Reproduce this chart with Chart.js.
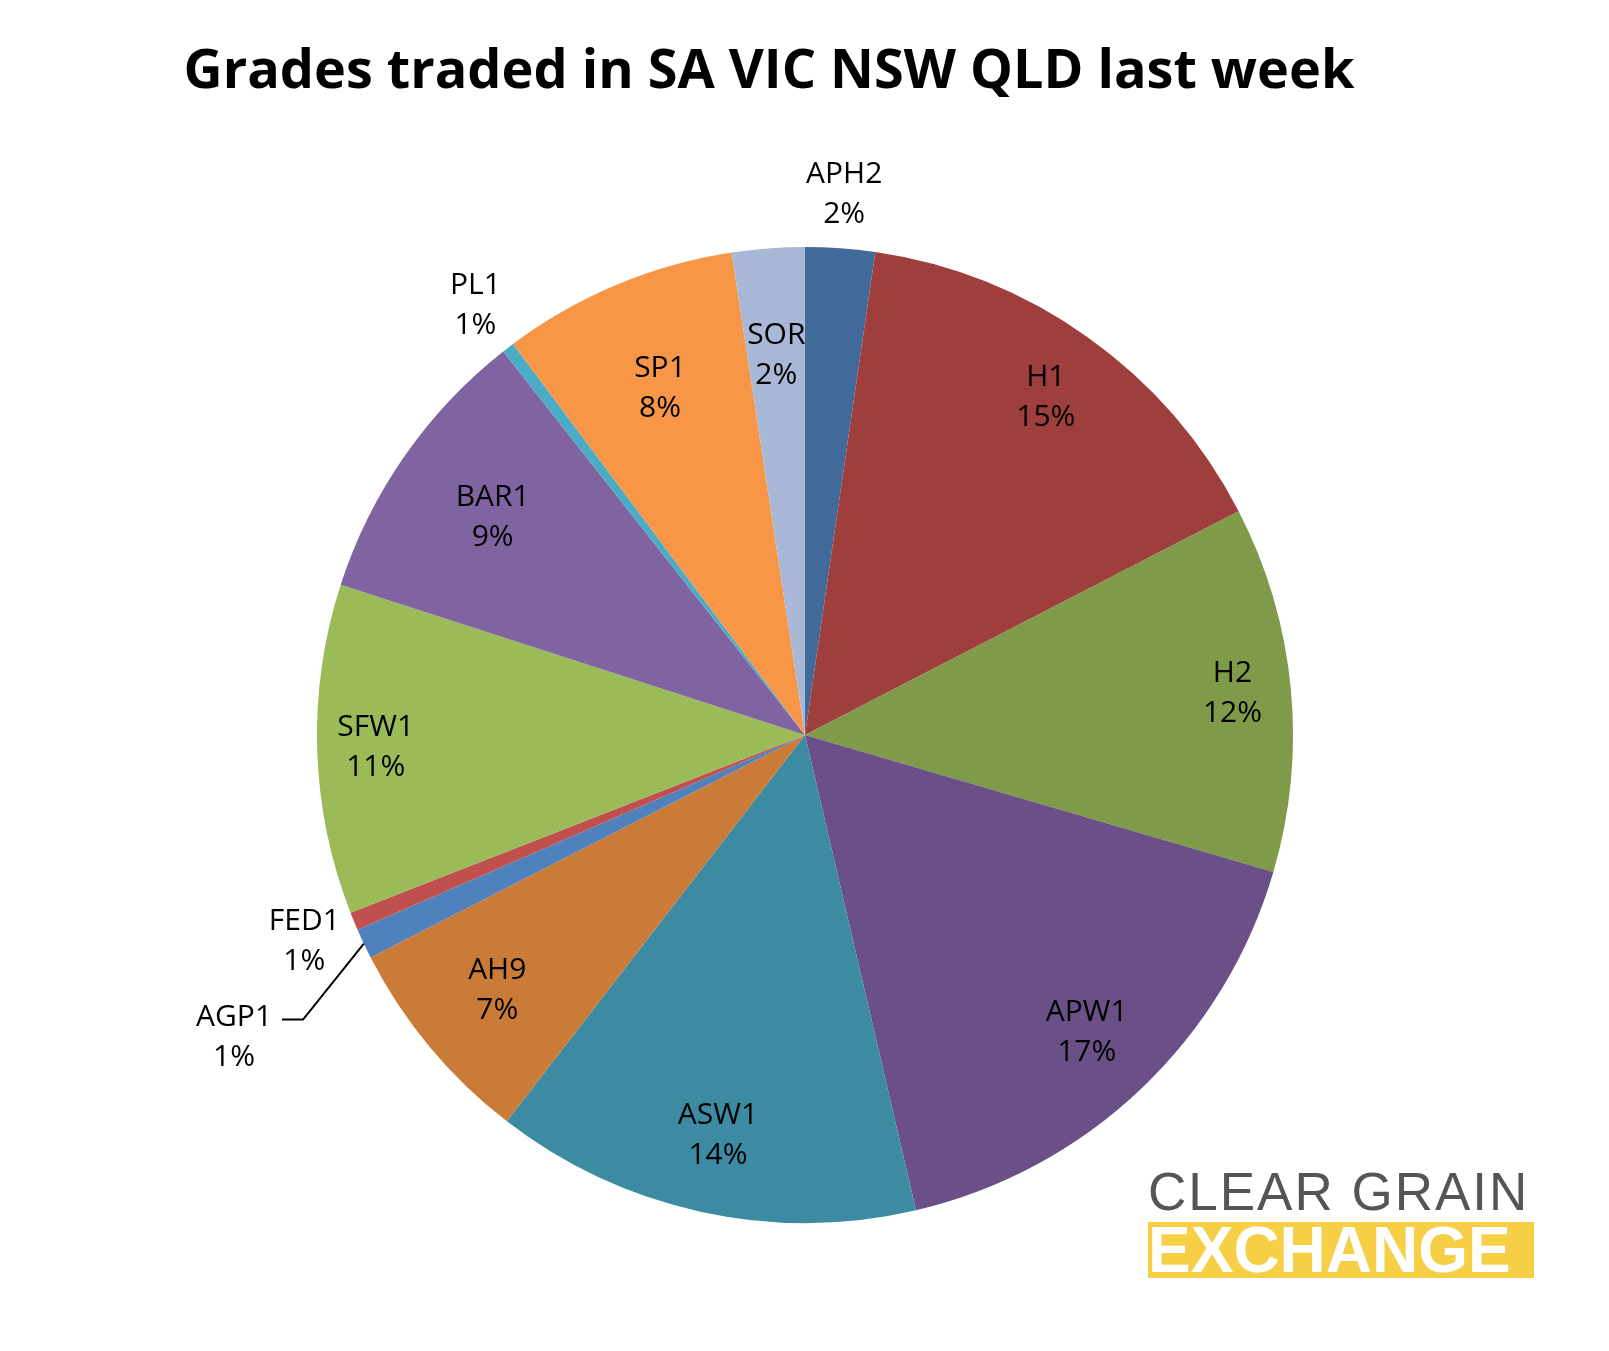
<!DOCTYPE html>
<html><head><meta charset="utf-8">
<script src="https://cdn.jsdelivr.net/npm/chart.js@4"></script>
<style>
  body{margin:0;background:#fff;width:1609px;height:1351px;position:relative;overflow:hidden;font-family:"Open Sans","Liberation Sans",sans-serif}
  #title{position:absolute;top:30px;left:0;width:1538px;text-align:center;font-size:54px;font-weight:bold;color:#000}
  #logo{position:absolute;left:1148px;top:1166px;width:386px}
  #logo .a{font-size:53px;color:#555;letter-spacing:2px;line-height:52px;font-family:"Liberation Sans",sans-serif;white-space:nowrap}
  #logo .b{margin-top:4px;background:#f7cf46;color:#fff;font-size:64px;font-weight:bold;line-height:56px;height:56px;letter-spacing:0px;font-family:"Liberation Sans",sans-serif;overflow:hidden;white-space:nowrap}
  canvas{position:absolute;left:0;top:0}
</style></head>
<body>
<canvas id="c" width="1609" height="1351"></canvas>
<div id="title">Grades traded in SA VIC NSW QLD last week</div>
<div id="logo"><div class="a">CLEAR GRAIN</div><div class="b">EXCHANGE</div></div>
<script>
// ===== Data =====
const grades = ["APH2","H1","H2","APW1","ASW1","AH9","AGP1","FED1","SFW1","BAR1","PL1","SP1","SOR"];
const shares = [2.3,15.1,12.1,16.8,14.1,7.0,1.0,0.6,10.9,9.4,0.4,7.8,2.4];
const shownPct = ["2%","15%","12%","17%","14%","7%","1%","1%","11%","9%","1%","8%","2%"];

// ===== Style =====
const colors = ["#416a9b","#9e3f3e","#7f9a48","#6a5087","#3c8ba2","#cb7b38","#4f81bd","#c0504d","#9bbb59","#8064a2","#4bacc6","#f79646","#a9b8d6"];
const labelRadius = [1.11,0.85,0.88,0.84,0.84,0.82,1.33,1.11,0.88,0.78,1.11,0.77,0.78];

const labelPlugin = {
  id:"labels",
  afterDatasetsDraw(chart){
    const ctx = chart.ctx;
    const arcs = chart.getDatasetMeta(0).data;
    ctx.save();
    ctx.font = "30px 'Open Sans', 'Liberation Sans', sans-serif";
    ctx.fillStyle = "#000"; ctx.textAlign = "center"; ctx.textBaseline = "middle";
    arcs.forEach((a,i)=>{
      const mid = (a.startAngle+a.endAngle)/2;
      const R = a.outerRadius;
      let x = a.x+Math.cos(mid)*R*labelRadius[i], y = a.y+Math.sin(mid)*R*labelRadius[i];
      if(grades[i]==="AGP1"){
        // label sits lower-left, with a leader line
        x = a.x-1.17*R; y = a.y+0.62*R;
        const ex = a.x+Math.cos(mid)*R, ey = a.y+Math.sin(mid)*R;
        ctx.strokeStyle="#000"; ctx.lineWidth=2;
        ctx.beginPath(); ctx.moveTo(ex,ey); ctx.lineTo(x+69,y-18); ctx.lineTo(x+48,y-18); ctx.stroke();
      }
      ctx.fillText(grades[i], x, y-20);
      ctx.fillText(shownPct[i], x, y+20);
    });
    ctx.restore();
  }
};

new Chart(document.getElementById("c"), {
  type:"pie",
  data:{ labels:grades, datasets:[{ data:shares, backgroundColor:colors, borderWidth:0 }] },
  options:{
    responsive:false, animation:false, devicePixelRatio:1,
    layout:{ padding:{ left:317, right:316, top:247, bottom:128 } },
    plugins:{ legend:{display:false}, tooltip:{enabled:false} }
  },
  plugins:[labelPlugin]
});
</script>
</body></html>
